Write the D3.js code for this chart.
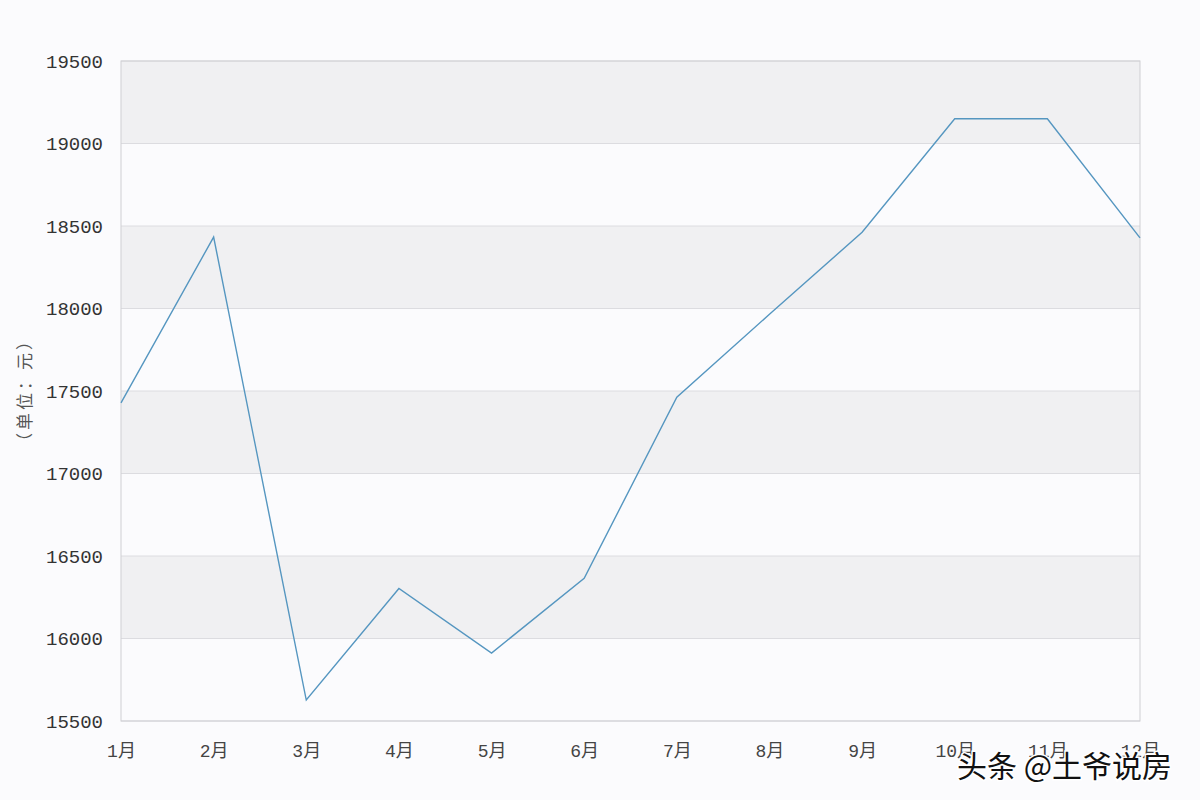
<!DOCTYPE html>
<html><head><meta charset="utf-8">
<script src="https://cdn.jsdelivr.net/npm/d3@7"></script>
<style>body{margin:0;background:#fbfbfd;} svg{display:block;}</style>
</head><body>
<svg id="c" width="1200" height="800"></svg>
<script>
const months = ["1月","2月","3月","4月","5月","6月","7月","8月","9月","10月","11月","12月"];
const prices = [17428, 18433, 15627, 16303, 15912, 16365, 17462, 17965, 18462, 19150, 19150, 18428];
const yTicks = [15500, 16000, 16500, 17000, 17500, 18000, 18500, 19000, 19500];
const yLabel = "（单位：元）";
const watermark = "头条 @土爷说房";

const svg = d3.select("#c");
const m = {l:121, r:1140, t:61, b:721};
const x = d3.scalePoint().domain(months).range([m.l, m.r]);
const y = d3.scaleLinear().domain([15500, 19500]).range([m.b, m.t]);

svg.append("rect").attr("width",1200).attr("height",800).attr("fill","#fbfbfd");

// bands
const bands = [[19000,19500],[18000,18500],[17000,17500],[16000,16500]];
svg.selectAll("rect.band").data(bands).join("rect").attr("class","band")
  .attr("x", m.l).attr("width", m.r-m.l)
  .attr("y", d=>y(d[1])).attr("height", d=>y(d[0])-y(d[1]))
  .attr("fill","#f0f0f2");

// gridlines
svg.selectAll("line.grid").data(yTicks).join("line").attr("class","grid")
  .attr("x1", m.l).attr("x2", m.r).attr("y1", d=>y(d)).attr("y2", d=>y(d))
  .attr("stroke","#dcdce0").attr("stroke-width",1);

// frame
svg.append("rect").attr("x",m.l).attr("y",m.t).attr("width",m.r-m.l).attr("height",m.b-m.t)
  .attr("fill","none").attr("stroke","#cfcfd3").attr("stroke-width",1);

// y axis labels
const yAxis = d3.axisLeft(y).tickValues(yTicks).tickSize(0).tickPadding(18).tickFormat(d3.format("d"));
const ga = svg.append("g").attr("transform",`translate(${m.l},0)`).call(yAxis);
ga.select(".domain").remove();
ga.selectAll("text").attr("font-family","Liberation Mono, DejaVu Sans Mono, monospace")
  .attr("font-size",19).attr("fill","#333");

// x axis labels
const xAxis = d3.axisBottom(x).tickSize(0).tickPadding(23);
const gx = svg.append("g").attr("transform",`translate(0,${m.b})`).call(xAxis);
gx.select(".domain").remove();
gx.selectAll("text").attr("font-family","Liberation Mono, Noto Sans CJK SC, monospace")
  .attr("font-size",18).attr("fill","#444");

// y label
svg.append("text").attr("transform","translate(31,390) rotate(-90)")
  .attr("text-anchor","middle").attr("font-family","Noto Sans CJK SC, sans-serif")
  .attr("font-size",17).attr("fill","#555")
  .style("letter-spacing","3px").text(yLabel);

// line
const line = d3.line().x((d,i)=>x(months[i])).y(d=>y(d));
svg.append("path").datum(prices).attr("d", line)
  .attr("fill","none").attr("stroke","#5596c0").attr("stroke-width",1.4);

// watermark
svg.append("text").attr("x",957).attr("y",777)
  .attr("font-family","Noto Sans CJK SC, sans-serif").attr("font-size",30)
  .attr("fill","#111").attr("stroke","#ffffff").attr("stroke-width",3)
  .attr("paint-order","stroke").text(watermark);
</script>
</body></html>
